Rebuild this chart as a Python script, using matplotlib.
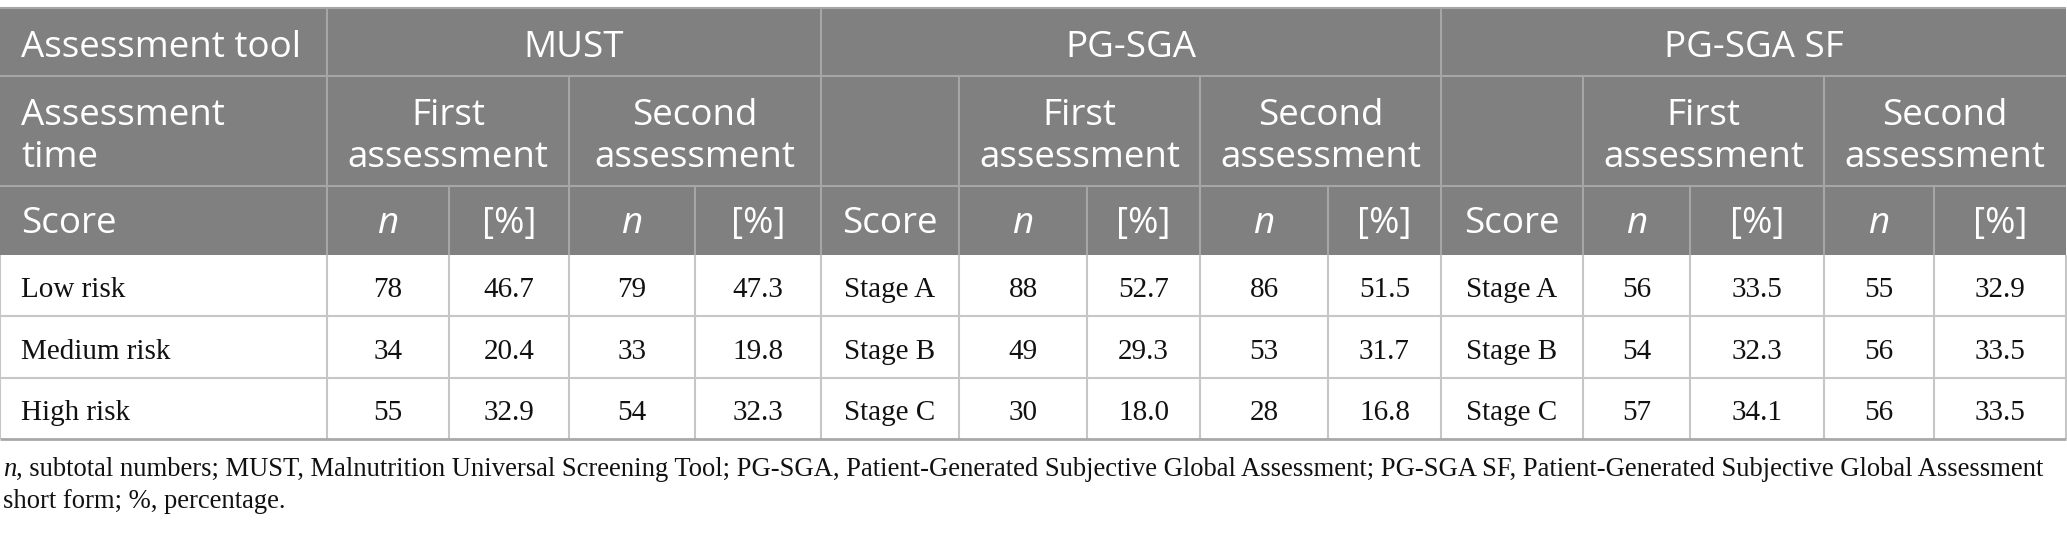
import matplotlib
matplotlib.use('Agg')
import matplotlib.pyplot as plt

# table content
tools = ['MUST', 'PG-SGA', 'PG-SGA SF']
times = ['First\nassessment', 'Second\nassessment']
must_scores = ['Low risk', 'Medium risk', 'High risk']
stage_scores = ['Stage A', 'Stage B', 'Stage C']

must_n1 = [78, 34, 55]
must_p1 = [46.7, 20.4, 32.9]
must_n2 = [79, 33, 54]
must_p2 = [47.3, 19.8, 32.3]

pgsga_n1 = [88, 49, 30]
pgsga_p1 = [52.7, 29.3, 18.0]
pgsga_n2 = [86, 53, 28]
pgsga_p2 = [51.5, 31.7, 16.8]

sf_n1 = [56, 54, 57]
sf_p1 = [33.5, 32.3, 34.1]
sf_n2 = [55, 56, 56]
sf_p2 = [32.9, 33.5, 33.5]

caption = ['n', ', subtotal numbers; MUST, Malnutrition Universal Screening Tool; PG-SGA, '
           'Patient-Generated Subjective Global Assessment; PG-SGA SF, Patient-Generated '
           'Subjective Global Assessment',
           'short form; %, percentage.']

# layout in pixels
W, H = 2067, 533
cols = [0, 327, 449, 569, 695, 821, 959, 1087, 1200, 1328, 1441, 1583, 1690, 1824, 1934, 2066]
rows = [8, 76, 186, 255, 316, 378, 439]
HEAD = '#7f807f'
HLINE = '#a6a6a6'
BLINE = '#c6c6c6'
TXT = '#111111'
hfont = 'Open Sans'
bfont = 'Liberation Serif'
hsize = 26.5
bsize = 21

fig = plt.figure(figsize=(W / 100, H / 100), dpi=100)
ax = fig.add_axes([0, 0, 1, 1])
ax.set_xlim(0, W)
ax.set_ylim(H, 0)
ax.axis('off')

# header background
ax.fill_between([cols[0], cols[-1]], rows[0], rows[3], color=HEAD, lw=0)

def vline(x, y0, y1, c):
    ax.plot([x, x], [y0, y1], color=c, lw=1.5, solid_capstyle='butt')

def hline(y, c, lw=1.5):
    ax.plot([cols[0], cols[-1]], [y, y], color=c, lw=lw, solid_capstyle='butt')

# header grid
hline(rows[0], HLINE)
hline(rows[1], HLINE)
hline(rows[2], HLINE)
for x in [cols[1], cols[5], cols[10]]:
    vline(x, rows[0], rows[1], HLINE)
for x in [cols[1], cols[3], cols[5], cols[6], cols[8], cols[10], cols[11], cols[13]]:
    vline(x, rows[1], rows[2], HLINE)
for x in cols[1:-1]:
    vline(x, rows[2], rows[3], HLINE)

# body grid
for x in cols:
    vline(x, rows[3], rows[6], BLINE)
hline(rows[4], BLINE)
hline(rows[5], BLINE)
hline(rows[6], '#a8a8a8', 2)

def htext(x, y, s, ha='center', style='normal'):
    ax.text(x, y, s, color='white', fontsize=hsize, family=hfont, ha=ha,
            va='baseline', style=style)

def btext(x, y, s, ha='center', style='normal', size=bsize):
    return ax.text(x, y, s, color=TXT, fontsize=size, family=bfont, ha=ha,
                   va='baseline', style=style)

def mid(a, b):
    return (cols[a] + cols[b]) / 2

# header row 1
htext(21, 57, 'Assessment tool', ha='left')
for i, t in enumerate(tools):
    a, b = [(1, 5), (5, 10), (10, 15)][i]
    htext(mid(a, b), 57, t)

# header row 2
htext(21, 125, 'Assessment', ha='left')
htext(21, 167, 'time', ha='left')
spans = [(1, 3), (3, 5), (6, 8), (8, 10), (11, 13), (13, 15)]
for k, (a, b) in enumerate(spans):
    top, bot = times[k % 2].split('\n')
    htext(mid(a, b), 125, top)
    htext(mid(a, b), 167, bot)

# header row 3
htext(21, 233, 'Score', ha='left')
htext(mid(5, 6), 233, 'Score')
htext(mid(10, 11), 233, 'Score')
for a, b in spans:
    htext(mid(a, a + 1), 233, 'n', style='italic')
    htext(mid(a + 1, b), 233, '[%]')

# body
groups = [
    (1, must_n1, must_p1, must_n2, must_p2),
    (6, pgsga_n1, pgsga_p1, pgsga_n2, pgsga_p2),
    (11, sf_n1, sf_p1, sf_n2, sf_p2),
]
baselines = [297, 359, 420]
for r, yb in enumerate(baselines):
    btext(21, yb, must_scores[r], ha='left')
    btext(mid(5, 6), yb, stage_scores[r])
    btext(mid(10, 11), yb, stage_scores[r])
    for c0, n1, p1, n2, p2 in groups:
        btext(mid(c0, c0 + 1), yb, str(n1[r]))
        btext(mid(c0 + 1, c0 + 2), yb, f'{p1[r]:.1f}')
        btext(mid(c0 + 2, c0 + 3), yb, str(n2[r]))
        btext(mid(c0 + 3, c0 + 4), yb, f'{p2[r]:.1f}')

# footnote, font size fitted so the first line ends where the reference does
renderer = fig.canvas.get_renderer()
probe = ax.text(0, 0, caption[0] + caption[1], fontsize=20, family=bfont)
w = probe.get_window_extent(renderer).width
probe.remove()
csize = 20 * (2043 - 3) / w

t_n = btext(3, 476, caption[0], ha='left', style='italic', size=csize)
wn = t_n.get_window_extent(renderer).width
btext(3 + wn, 476, caption[1], ha='left', size=csize)
btext(3, 508, caption[2], ha='left', size=csize)

fig.savefig('out.png', dpi=100)
